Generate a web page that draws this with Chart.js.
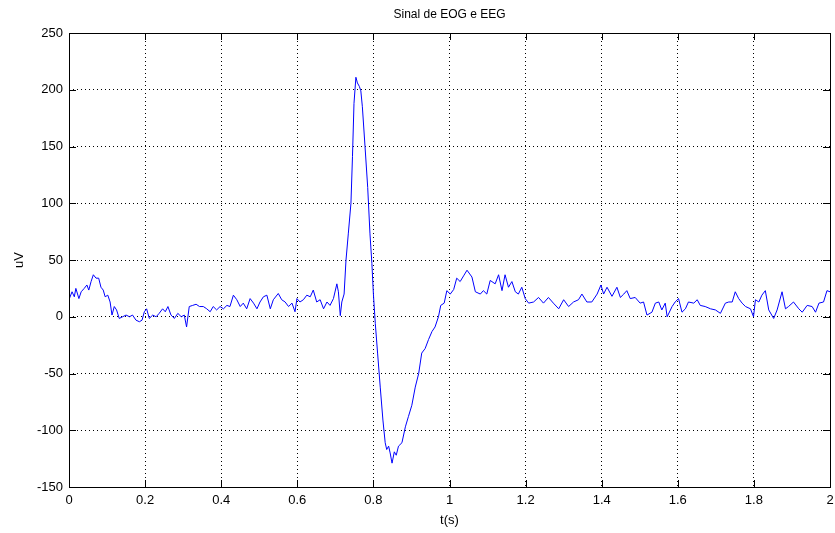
<!DOCTYPE html>
<html>
<head>
<meta charset="utf-8">
<script src="https://cdn.jsdelivr.net/npm/chart.js@4/dist/chart.umd.min.js"></script>
<style>
  body { margin: 0; background: #fff; }
  canvas { display: block; }
</style>
</head>
<body>
<canvas id="myChart" width="835" height="533"></canvas>
<script>
// signal
const tSec = [0.001, 0.008, 0.014, 0.018, 0.026, 0.032, 0.040, 0.047, 0.052, 0.058,
  0.064, 0.071, 0.078, 0.084, 0.090, 0.095, 0.102, 0.108, 0.113, 0.119,
  0.125, 0.132, 0.141, 0.150, 0.159, 0.167, 0.176, 0.185, 0.192, 0.198,
  0.204, 0.211, 0.220, 0.229, 0.237, 0.246, 0.253, 0.260, 0.268, 0.277,
  0.286, 0.295, 0.303, 0.309, 0.316, 0.325, 0.334, 0.343, 0.353, 0.362,
  0.371, 0.379, 0.388, 0.397, 0.406, 0.415, 0.423, 0.432, 0.441, 0.450,
  0.458, 0.467, 0.476, 0.485, 0.494, 0.502, 0.511, 0.520, 0.529, 0.537,
  0.550, 0.559, 0.568, 0.577, 0.586, 0.594, 0.599, 0.607, 0.616, 0.625,
  0.634, 0.642, 0.651, 0.660, 0.669, 0.678, 0.686, 0.695, 0.704, 0.708,
  0.713, 0.717, 0.723, 0.728,
  0.734, 0.741, 0.745, 0.749, 0.754, 0.758, 0.763, 0.767, 0.771, 0.778,
  0.785, 0.791, 0.796, 0.800, 0.805, 0.811, 0.818, 0.825, 0.831, 0.835,
  0.840, 0.844, 0.849, 0.855, 0.860, 0.866, 0.875, 0.884, 0.892, 0.901,
  0.910, 0.919, 0.927, 0.936, 0.945, 0.954, 0.962, 0.971, 0.977, 0.986,
  0.993, 1.002, 1.011, 1.019, 1.028, 1.037, 1.046, 1.059, 1.068, 1.081,
  1.089, 1.098, 1.107, 1.120, 1.129, 1.138, 1.146, 1.155, 1.164, 1.173,
  1.181, 1.190, 1.199, 1.208, 1.221, 1.234, 1.247, 1.260, 1.273, 1.287,
  1.300, 1.313, 1.326, 1.339, 1.348, 1.361, 1.374, 1.388, 1.398, 1.405,
  1.414, 1.427, 1.440, 1.449, 1.458, 1.466, 1.475, 1.488, 1.501, 1.510,
  1.519, 1.532, 1.541, 1.550, 1.558, 1.567, 1.572, 1.585, 1.593, 1.602,
  1.611, 1.620, 1.628, 1.642, 1.651, 1.659, 1.672, 1.686, 1.699, 1.712,
  1.725, 1.734, 1.743, 1.751, 1.760, 1.769, 1.778, 1.791, 1.799, 1.804,
  1.813, 1.821, 1.830, 1.839, 1.852, 1.861, 1.874, 1.883, 1.891, 1.904,
  1.918, 1.927, 1.940, 1.953, 1.962, 1.971, 1.983, 1.992, 2.000];

const uV = [16, 22, 17.6, 25, 16, 22, 25, 28, 23.5, 31,
  37, 34, 34, 26, 23.5, 17.6, 19, 13, 1.5, 9,
  6, -1.5, 0, 1.5, 0, 1.5, -3, -4.4, -3, 4.4,
  7, -1.5, 1.5, 0, 3, 7, 4.4, 9, 1.5, -1.5,
  3, 0, 1.5, -9, 9, 10, 11, 9, 9, 7,
  4.4, 9, 6, 9, 7, 10, 9, 19, 15, 9,
  12, 7, 16, 12, 7, 13, 17.6, 19, 7, 15,
  20.5, 15, 13, 9, 12, 4.4, 16, 13, 15, 19,
  17.6, 23.5, 13, 15, 7, 13, 10, 16, 29, 22,
  1, 13, 20, 50,
  73, 100, 141, 188, 211, 206, 203, 199, 185, 150,
  114, 73, 47, 20, -6, -32, -62, -91, -111, -117,
  -114, -120, -129, -119, -122, -114, -111, -97, -88, -78,
  -62, -50, -32, -28, -20, -13, -9, 0, 10, 12,
  23, 20, 24, 34, 31, 36, 41, 35, 22, 20,
  23, 20, 32, 29, 37, 23, 37, 26, 31, 22,
  20, 26, 16, 12, 13, 17, 12, 17, 12, 7,
  15, 9, 13, 15, 20, 13, 13, 20, 28, 20,
  26, 18, 26, 17, 20, 23, 16, 17, 12, 13,
  1.5, 4, 12, 13, 6, 12, 0, 9, 13, 16,
  4, 7, 13, 12, 15, 10, 9, 7, 6, 3,
  12, 13, 13, 22, 16, 12, 9, 7, 0, 15,
  13, 19, 23, 6, -1.5, 6, 22, 7, 9, 13,
  7, 4, 10, 9, 4, 12, 13, 23, 22];

const xTicks = ['0', '0.2', '0.4', '0.6', '0.8', '1', '1.2', '1.4', '1.6', '1.8', '2'];
const yTicks = ['-150', '-100', '-50', '0', '50', '100', '150', '200', '250'];

const FONT = 'Liberation Sans, Arial, sans-serif';

// box, inward ticks and title like the matlab figure
const matlabFrame = {
    id: 'matlabFrame',
    afterDraw(chart) {
        const ctx = chart.ctx;
        const a = chart.chartArea;
        const xs = chart.scales.x, ys = chart.scales.y;
        ctx.save();
        ctx.strokeStyle = '#000';
        ctx.lineWidth = 1;
        ctx.setLineDash([]);
        ctx.strokeRect(Math.round(a.left) + 0.5, Math.round(a.top) + 0.5,
            Math.round(a.right - a.left), Math.round(a.bottom - a.top));
        ctx.beginPath();
        xs.ticks.forEach(t => {
            const px = Math.round(xs.getPixelForValue(t.value)) + 0.5;
            ctx.moveTo(px, a.bottom); ctx.lineTo(px, a.bottom - 7);
            ctx.moveTo(px, a.top); ctx.lineTo(px, a.top + 7);
        });
        ys.ticks.forEach(t => {
            const py = Math.round(ys.getPixelForValue(t.value)) + 0.5;
            ctx.moveTo(a.left, py); ctx.lineTo(a.left + 7, py);
            ctx.moveTo(a.right, py); ctx.lineTo(a.right - 7, py);
        });
        ctx.stroke();
        ctx.fillStyle = '#000';
        ctx.font = '12px ' + FONT;
        ctx.textAlign = 'center';
        ctx.textBaseline = 'middle';
        ctx.fillText('Sinal de EOG e EEG', (a.left + a.right) / 2, 15);
        ctx.restore();
    }
};

const ctx = document.getElementById('myChart').getContext('2d');
const chart = new Chart(ctx, {
    type: 'line',
    data: {
        datasets: [{
            data: tSec.map((t, i) => ({ x: t, y: uV[i] })),
            borderColor: '#0000ff',
            borderWidth: 1,
            pointRadius: 0,
            tension: 0,
            fill: false
        }]
    },
    options: {
        responsive: false,
        animation: false,
        layout: { padding: { top: 33, right: 5, left: 0, bottom: 0 } },
        plugins: { legend: { display: false }, tooltip: { enabled: false } },
        scales: {
            x: {
                type: 'linear',
                min: 0, max: 2,
                afterFit: s => { s.height = 46; s.paddingLeft = 0; s.paddingRight = 0; },
                afterBuildTicks: s => { s.ticks = xTicks.map(v => ({ value: Number(v) })); },
                ticks: {
                    callback: (v, i) => xTicks[i],
                    color: '#000',
                    font: { family: FONT, size: 13 },
                    padding: 6,
                    maxRotation: 0,
                    autoSkip: false
                },
                grid: { color: '#000', drawTicks: false },
                border: { display: false, dash: [1, 3] },
                title: {
                    display: true, text: 't(s)', color: '#000',
                    font: { family: FONT, size: 13 },
                    padding: { top: 0, bottom: 5 }
                }
            },
            y: {
                min: -150, max: 250,
                afterFit: s => { s.width = 69; s.paddingTop = 0; s.paddingBottom = 0; },
                afterBuildTicks: s => { s.ticks = yTicks.map(v => ({ value: Number(v) })); },
                ticks: {
                    callback: (v, i) => yTicks[i],
                    color: '#000',
                    font: { family: FONT, size: 13 },
                    padding: 6,
                    autoSkip: false
                },
                grid: { color: '#000', drawTicks: false },
                border: { display: false, dash: [1, 3] },
                title: {
                    display: true, text: 'uV', color: '#000',
                    font: { family: FONT, size: 13 },
                    padding: { top: 12, bottom: 0 }
                }
            }
        }
    },
    plugins: [matlabFrame]
});
</script>
</body>
</html>
